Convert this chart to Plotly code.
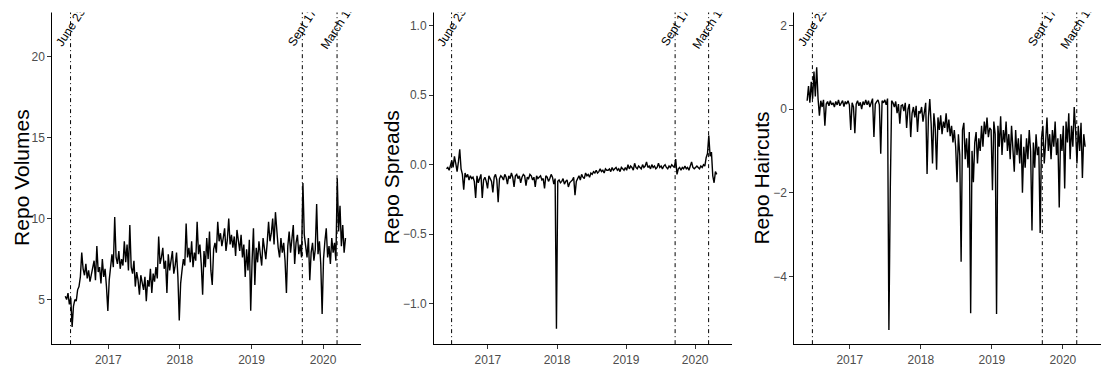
import pandas as pd
import plotly.graph_objects as go

# Weekly observations, starting Friday 2016-05-27
start_date = "2016-05-27"

repo_volumes = [
    5.2, 5.0, 5.4, 4.7, 5.1, 3.3, 4.6, 5.0, 4.9, 5.6,
    5.8, 6.4, 7.9, 6.9, 6.5, 7.2, 6.3, 6.8, 6.1, 6.6,
    6.9, 7.4, 6.2, 8.3, 6.7, 7.0, 6.0, 7.5, 6.4, 6.9, 5.8, 4.3,
    6.2, 7.3, 7.8, 7.0, 10.1, 7.6, 7.2, 8.0, 6.9, 7.5, 7.1, 8.6,
    7.3, 8.4, 6.8, 9.6, 7.0, 6.6, 7.4, 5.8, 6.7, 6.2, 5.3, 6.5, 6.0,
    5.6, 6.4, 4.9, 6.2, 5.8, 6.9, 5.4, 6.6, 6.1, 7.0, 6.3, 8.9, 7.2,
    7.6, 8.2, 6.9, 7.4, 5.4, 7.8, 6.8, 7.3, 8.0, 6.6, 7.1, 7.9, 6.4,
    3.7, 6.0, 6.8, 7.5, 7.1, 9.7, 7.6, 8.2, 7.3, 8.6, 7.0, 7.9, 7.4,
    9.8, 7.8, 8.4, 7.2, 5.3, 8.0, 7.0, 8.8, 7.5, 9.2, 6.8, 5.9, 8.1,
    8.5, 7.9, 9.8, 8.6, 9.1, 8.3, 8.8, 9.4, 8.0, 8.7, 10.0, 8.4, 9.0,
    8.2, 8.9, 7.7, 9.3, 8.5, 8.0, 9.0, 7.6, 8.4, 6.4, 8.1, 6.8, 8.7,
    4.3, 7.4, 9.4, 5.9, 8.2, 7.3, 8.6, 7.8, 7.1, 8.8, 8.0, 7.5, 8.5,
    9.8, 8.6, 9.1, 10.0, 8.4, 10.4, 9.0, 8.2, 7.6, 8.8, 7.9, 8.5, 7.4,
    5.4, 8.3, 9.2, 7.9, 8.8, 9.6, 7.2, 8.5, 9.0, 7.8, 8.4, 7.6,
    12.2, 9.0, 8.3, 7.6, 8.8, 6.2, 7.9, 8.5, 7.4, 8.1, 10.9, 7.8, 8.6, 7.2,
    4.1, 7.5, 8.6,
    9.4, 7.6, 8.3, 7.2, 8.8, 7.9, 8.5, 7.4,
    12.5,
    9.2, 10.8, 8.3, 9.6, 7.9, 8.8,
]

repo_spreads = [
    -0.03, -0.02, -0.04, -0.01, 0.03, -0.02, 0.06, 0.01, -0.05, 0.02,
    0.11, -0.03, -0.07, -0.18, -0.06, -0.09, -0.07, -0.11, -0.08, -0.10,
    -0.09, -0.12, -0.24, -0.08, -0.13, -0.10, -0.07, -0.24, -0.11, -0.09, -0.12, -0.17,
    -0.08, -0.10, -0.12, -0.20, -0.09, -0.07, -0.11, -0.27, -0.10, -0.08, -0.09, -0.11,
    -0.07, -0.09, -0.14, -0.08, -0.10, -0.06, -0.09, -0.16, -0.08, -0.07, -0.10, -0.08, -0.13,
    -0.09, -0.07, -0.08, -0.15, -0.09, -0.10, -0.07, -0.08, -0.11, -0.09, -0.16, -0.08, -0.10,
    -0.09, -0.08, -0.11, -0.10, -0.17, -0.08, -0.09, -0.12, -0.10, -0.07, -0.09, -0.14, -0.10,
    -1.18, -0.12, -0.11, -0.13, -0.12, -0.10, -0.14, -0.12, -0.11, -0.16, -0.13, -0.12, -0.11,
    -0.09, -0.22, -0.12, -0.10, -0.08, -0.11, -0.07, -0.09, -0.10, -0.06, -0.08, -0.07, -0.09,
    -0.06, -0.07, -0.05, -0.06, -0.04, -0.06, -0.05, -0.03, -0.05, -0.04, -0.06, -0.03, -0.04,
    -0.04, -0.03, -0.05, -0.02, -0.04, -0.03, -0.02, -0.04, -0.03, -0.05, -0.02, -0.03, -0.04,
    -0.02, -0.04, 0.00, -0.03, -0.01, -0.02, -0.04, 0.01, -0.02, -0.03, -0.01, -0.02, -0.03,
    0.00, -0.02, -0.01, 0.02, -0.02, -0.01, -0.03, 0.00, -0.02, -0.01, -0.03, -0.02, 0.01,
    -0.02, -0.01, -0.03, -0.01, 0.00, -0.02, -0.03, -0.01, -0.02, 0.00, -0.01, -0.02,
    0.04, -0.07, -0.03, -0.02, -0.04, -0.02, -0.03, -0.01, -0.03, -0.02, -0.04, -0.01, 0.02, -0.02,
    -0.03, -0.02, -0.01,
    -0.02, -0.03, -0.01, -0.02, 0.00, -0.01, 0.05, 0.08,
    0.21,
    0.06, 0.09, -0.08, -0.13, -0.05, -0.07,
]

repo_haircuts = [
    0.2, 0.55, 0.15, 0.65, 0.25, 0.9, 0.3, 1.0, 0.25, -0.16,
    0.2, 0.05, 0.22, -0.4, 0.12, 0.18, 0.08, 0.2, 0.1, 0.15,
    0.05, 0.18, 0.1, 0.22, 0.08, 0.15, 0.2, 0.06, 0.18, 0.12, 0.2, 0.1,
    -0.5, 0.15, 0.05, -0.58, 0.12, 0.2, 0.08, 0.16, 0.0, 0.18, 0.1, 0.22,
    0.1, 0.2, 0.05, 0.15, 0.25, -0.67, 0.12, 0.18, 0.22, 0.1, -1.07, 0.2, 0.15,
    0.22, 0.1, 0.25, -5.28, -1.94, 0.2, 0.15, 0.05, 0.18, -0.1, 0.12, -0.35, 0.08,
    0.1, -0.05, 0.15, -0.45, 0.0, 0.12, -0.67, -0.1, 0.05, -0.2, 0.08, -0.55, -0.05,
    -0.1, 0.05, -0.3, -0.05, 0.15, -1.55, -0.2, 0.24, -0.35, -1.3, -0.1, -0.45, -1.45,
    -0.2, -0.5, -0.15, -0.6, -0.3, -0.45, -0.1, -0.55, -0.25, -0.65, -0.4, -0.8, -0.5,
    -0.9, -1.75, -0.6, -1.1, -3.65, -0.5, -0.33, -1.2, -0.7, -1.4, -0.55, -4.88, -1.0,
    -1.75, -0.8, -0.55, -1.3, -0.7, -1.0, -0.4, -0.9, -0.3, -0.6, -0.2, -0.67, -0.45,
    -0.5, -1.94, -0.3, -0.6, -4.9, -0.4, -0.9, -0.17, -1.1, -0.5, -0.8, -0.3, -1.0,
    -0.6, -1.2, -0.4, -0.9, -1.5, -0.5, -1.1, -0.7, -1.3, -0.6, -2.0, -0.9, -1.4,
    -0.7, -1.2, -0.5, -1.0, -2.9, -0.8, -1.4, -0.6, -1.1, -0.9, -2.96, -0.7,
    -0.4, -1.3, -0.8, -0.2, -1.0, -0.6, -1.2, -0.5, -0.9, -0.3, -1.1, -0.7, -2.35, -0.6,
    -1.0, -0.4, -1.9,
    -0.3, -0.8, -0.1, -1.2, -0.4, -0.9, 0.05, -0.5,
    -1.3,
    -0.4, -1.0, -0.33, -1.65, -0.6, -0.9,
]

panel_titles = ["Repo Volumes", "Repo Spreads", "Repo Haircuts"]

event_dates = ["2016-06-23", "2019-09-17", "2020-03-12"]
event_labels = ["June 23", "Sept 17", "March 12"]

year_ticks = ["2017-01-01", "2018-01-01", "2019-01-01", "2020-01-01"]
year_labels = ["2017", "2018", "2019", "2020"]

y_tickvals = [[5, 10, 15, 20], [-1.0, -0.5, 0.0, 0.5, 1.0], [-4, -2, 0, 2]]
y_ticktext = [["5", "10", "15", "20"],
              ["\u22121.0", "\u22120.5", "0.0", "0.5", "1.0"],
              ["\u22124", "\u22122", "0", "2"]]
y_ranges = [[2.24, 22.8], [-1.29, 1.10], [-5.62, 2.33]]

W, H = 1101, 367
x_domains = [[52.3 / W, 361.0 / W], [434.0 / W, 731.7 / W], [794.3 / W, 1100.5 / W]]
y_domain = [1 - 347.0 / H, 1 - 11.7 / H]
title_x = [22.0 / W, 391.5 / W, 761.7 / W]
x_range = ["2016-03-22", "2020-07-12"]

FONT = "Liberation Sans, Arial, Helvetica, sans-serif"
TICK_GREY = "#4D4D4D"

series = [repo_volumes, repo_spreads, repo_haircuts]

fig = go.Figure()
layout = dict(
    width=W, height=H,
    margin=dict(l=0, r=0, t=0, b=0),
    paper_bgcolor="white", plot_bgcolor="white",
    showlegend=False,
    font=dict(family=FONT, color="black"),
)
shapes = []
annotations = []

for k, values in enumerate(series):
    n = k + 1
    suffix = "" if n == 1 else str(n)
    dates = pd.date_range(start_date, periods=len(values), freq="7D")
    fig.add_trace(go.Scatter(
        x=dates, y=values, mode="lines",
        line=dict(color="black", width=1.4),
        xaxis="x" + suffix, yaxis="y" + suffix,
        hoverinfo="skip",
    ))
    layout["xaxis" + suffix] = dict(
        domain=x_domains[k], anchor="y" + suffix, type="date",
        range=x_range, tickvals=year_ticks, ticktext=year_labels,
        showline=True, linecolor="black", linewidth=1,
        ticks="outside", ticklen=4, tickwidth=1, tickcolor="#333333",
        tickfont=dict(size=12, color=TICK_GREY, family=FONT),
        showgrid=False, zeroline=False,
    )
    layout["yaxis" + suffix] = dict(
        domain=y_domain, anchor="x" + suffix,
        range=y_ranges[k], tickvals=y_tickvals[k], ticktext=y_ticktext[k],
        showline=True, linecolor="black", linewidth=1,
        ticks="outside", ticklen=4, tickwidth=1, tickcolor="#333333",
        tickfont=dict(size=12, color=TICK_GREY, family=FONT),
        showgrid=False, zeroline=False,
    )
    # event markers: dot-dash vertical rules with slanted labels
    for d, lab in zip(event_dates, event_labels):
        shapes.append(dict(
            type="line", xref="x" + suffix, yref="y" + suffix + " domain",
            x0=d, x1=d, y0=0, y1=1,
            line=dict(color="black", width=1, dash="4px,3px,1px,3px"),
        ))
        annotations.append(dict(
            x=d, xref="x" + suffix, y=1 - 27.0 / H, yref="paper",
            text=lab, showarrow=False, textangle=-57,
            xanchor="center", yanchor="middle",
            font=dict(size=12, color="black", family=FONT),
        ))
    annotations.append(dict(
        x=title_x[k], xref="paper", y=(y_domain[0] + y_domain[1]) / 2, yref="paper",
        text=panel_titles[k], showarrow=False, textangle=-90,
        xanchor="center", yanchor="middle",
        font=dict(size=21, color="black", family=FONT),
    ))

# white band above the panels so the slanted labels stop at the panel top
annotations.append(dict(
    x=0.5, xref="paper", y=1, yref="paper", xanchor="center", yanchor="top",
    text=" ", showarrow=False, width=W, height=11, borderpad=0,
    bgcolor="white", font=dict(size=1),
))

layout["shapes"] = shapes
layout["annotations"] = annotations
fig.update_layout(**layout)
fig.write_html("out.html")
